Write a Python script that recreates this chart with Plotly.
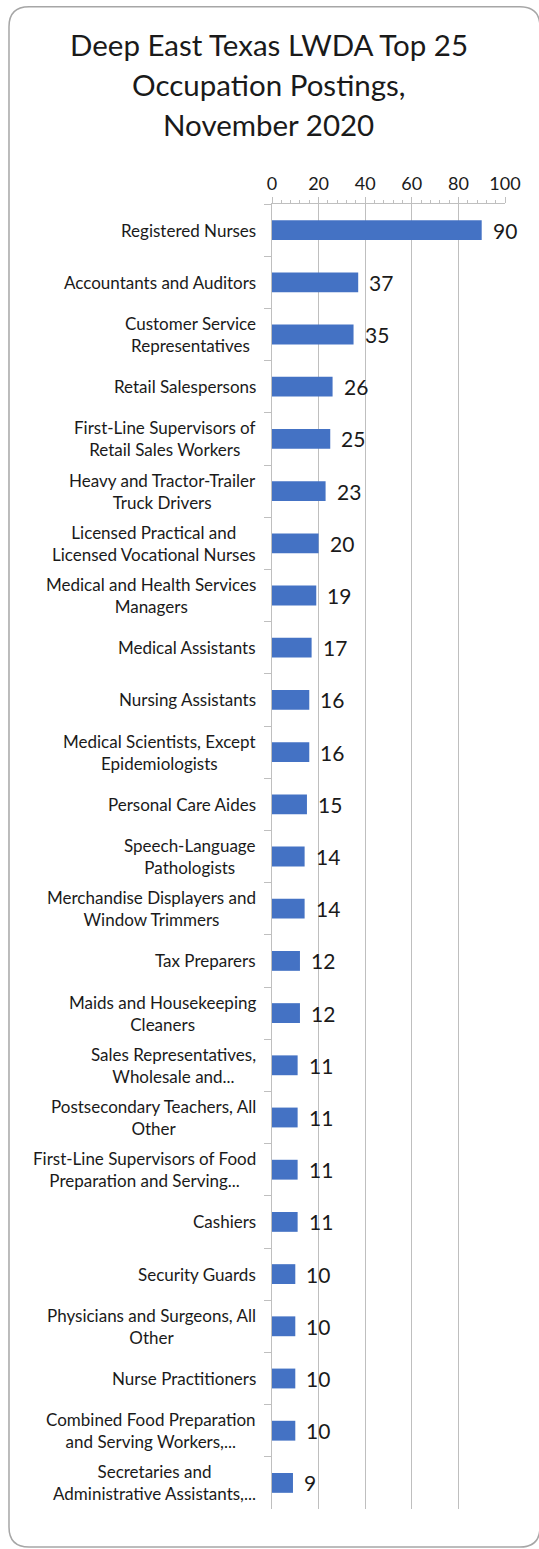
import plotly.graph_objects as go

title_lines = ["Deep East Texas LWDA Top 25", "Occupation Postings,", "November 2020"]

occupations = [
    "Registered Nurses",
    "Accountants and Auditors",
    "Customer Service<br>Representatives",
    "Retail Salespersons",
    "First-Line Supervisors of<br>Retail Sales Workers",
    "Heavy and Tractor-Trailer<br>Truck Drivers",
    "Licensed Practical and<br>Licensed Vocational Nurses",
    "Medical and Health Services<br>Managers",
    "Medical Assistants",
    "Nursing Assistants",
    "Medical Scientists, Except<br>Epidemiologists",
    "Personal Care Aides",
    "Speech-Language<br>Pathologists",
    "Merchandise Displayers and<br>Window Trimmers",
    "Tax Preparers",
    "Maids and Housekeeping<br>Cleaners",
    "Sales Representatives,<br>Wholesale and...",
    "Postsecondary Teachers, All<br>Other",
    "First-Line Supervisors of Food<br>Preparation and Serving...",
    "Cashiers",
    "Security Guards",
    "Physicians and Surgeons, All<br>Other",
    "Nurse Practitioners",
    "Combined Food Preparation<br>and Serving Workers,...",
    "Secretaries and<br>Administrative Assistants,...",
]
postings = [90, 37, 35, 26, 25, 23, 20, 19, 17, 16, 16, 15, 14, 14, 12,
            12, 11, 11, 11, 11, 10, 10, 10, 10, 9]

cats = [str(i) for i in range(len(occupations))]
font = "Lato, Carlito, Calibri, sans-serif"
grey = "#BFBFBF"
ink = "#1a1a1a"

fig = go.Figure(go.Bar(
    x=postings,
    y=cats,
    orientation="h",
    marker=dict(color="#4472C4", line=dict(width=0)),
    width=0.38,
    hoverinfo="skip",
))

# value labels
for c, v in zip(cats, postings):
    fig.add_annotation(x=v, y=c, text=str(v), showarrow=False,
                       xanchor="left", xshift=9,
                       font=dict(size=21, color=ink, family=font))

# category labels (lines centered, block right-anchored)
for c, lab in zip(cats, occupations):
    fig.add_annotation(x=0, xref="paper", y=c, text=lab, showarrow=False,
                       xanchor="right", align="center", xshift=-14,
                       font=dict(size=17, color=ink, family=font))

# title, one line per annotation for Excel-like line spacing
for line, ty in zip(title_lines, [1.1219, 1.0913, 1.0606]):
    fig.add_annotation(x=-0.015, xref="paper", y=ty, yref="paper", text=line,
                       showarrow=False, xanchor="center", yanchor="middle",
                       font=dict(size=29.5, color=ink, family=font))

# rounded outer border
x0, x1, y0, y1 = -1.1288, 1.15, -0.0291, 1.1511
rx, ry = 0.086, 0.0153
path = (f"M {x0+rx},{y1} L {x1-rx},{y1} Q {x1},{y1} {x1},{y1-ry} "
        f"L {x1},{y0+ry} Q {x1},{y0} {x1-rx},{y0} L {x0+rx},{y0} "
        f"Q {x0},{y0} {x0},{y0+ry} L {x0},{y1-ry} Q {x0},{y1} {x0+rx},{y1} Z")
fig.add_shape(type="path", path=path, xref="paper", yref="paper",
              line=dict(color="#A6A6A6", width=1.5))

fig.update_layout(
    width=539,
    height=1549,
    paper_bgcolor="white",
    plot_bgcolor="white",
    margin=dict(l=272, r=34, t=204, b=40),
    showlegend=False,
    xaxis=dict(
        side="top",
        range=[0, 100],
        dtick=20,
        tick0=0,
        showgrid=True,
        gridcolor=grey,
        gridwidth=1,
        showline=True,
        linecolor=grey,
        ticks="outside",
        ticklen=6,
        tickcolor=grey,
        minor=dict(dtick=4, ticks="outside", ticklen=3, tickcolor=grey, showgrid=False),
        tickfont=dict(size=18, color=ink, family=font),
        zeroline=False,
    ),
    yaxis=dict(
        autorange="reversed",
        showticklabels=False,
        showline=True,
        linecolor=grey,
        ticks="outside",
        ticklen=7,
        tickcolor=grey,
        tickson="boundaries",
        showgrid=False,
    ),
)

fig.write_html("out.html", config={"displayModeBar": False},
               post_script="document.body.style.margin='0';")
